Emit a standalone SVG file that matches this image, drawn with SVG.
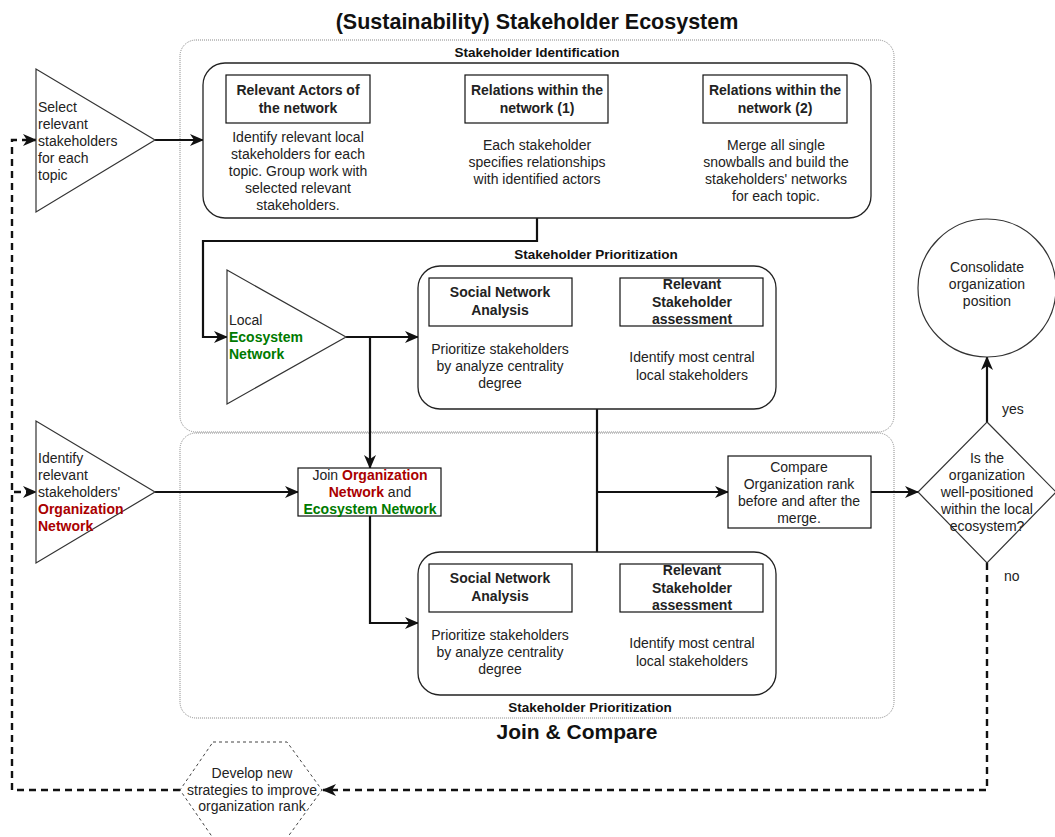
<svg xmlns="http://www.w3.org/2000/svg" width="1055" height="837" viewBox="0 0 1055 837">
<style>
text{font-family:"Liberation Sans",Arial,sans-serif;font-size:14px;fill:#222}
.c{text-anchor:middle}
.b{font-weight:bold}
.t{font-size:21.5px;font-weight:bold;fill:#111}
.h{font-size:13.5px;font-weight:bold;fill:#111}
.red{fill:#AA0000;font-weight:bold}
.grn{fill:#007A00;font-weight:bold}
.cont{fill:none;stroke:#888;stroke-width:1;stroke-dasharray:1 1}
.rr{fill:#fff;stroke:#222;stroke-width:1.3}
.bx{fill:#fff;stroke:#111;stroke-width:1.2}
.sh{fill:#fff;stroke:#333;stroke-width:1.2}
.thick{fill:none;stroke:#111;stroke-width:2.2}
.thin{fill:none;stroke:#111;stroke-width:1.2}
.dash{fill:none;stroke:#111;stroke-width:2.4;stroke-dasharray:7 5}
</style>
<defs>
<marker id="ah" markerUnits="userSpaceOnUse" markerWidth="14" markerHeight="12" refX="13" refY="6" orient="auto">
<path d="M0,0 L14,6 L0,12 L4,6 z" fill="#111"/>
</marker>
<marker id="as" markerUnits="userSpaceOnUse" markerWidth="10" markerHeight="9" refX="9.5" refY="4.5" orient="auto">
<path d="M0,0 L10,4.5 L0,9 L3,4.5 z" fill="#111"/>
</marker>
</defs>
<rect width="1055" height="837" fill="#fff"/>

<text class="t c" x="537" y="29">(Sustainability) Stakeholder Ecosystem</text>

<g id="containers">
<rect class="cont" x="180" y="40" width="714" height="392" rx="16"/>
<rect class="cont" x="180" y="433" width="714" height="285" rx="16"/>
<text class="h c" x="537" y="57">Stakeholder Identification</text>
<text class="h c" x="596" y="259">Stakeholder Prioritization</text>
<text class="h c" x="590" y="712">Stakeholder Prioritization</text>
<text class="t c" x="577" y="739" style="font-size:21px">Join &amp; Compare</text>
</g>

<g id="connectors">
<path class="thick" d="M155,140 L203,140" marker-end="url(#ah)"/>
<path class="thin" d="M370,99 L465,99" marker-end="url(#as)"/>
<path class="thin" d="M608,99 L703,99" marker-end="url(#as)"/>
<path class="thick" d="M537,218 L537,241 L203,241 L203,337 L227,337" marker-end="url(#ah)"/>
<path class="thick" d="M346,337 L418,337" marker-end="url(#ah)"/>
<path class="thick" d="M370,337 L370,468" marker-end="url(#ah)"/>
<path class="thin" d="M572,302 L620,302" marker-end="url(#as)"/>
<path class="thick" d="M155,492 L298,492" marker-end="url(#ah)"/>
<path class="thick" d="M370,516 L370,623 L418,623" marker-end="url(#ah)"/>
<path class="thin" d="M572,588 L620,588" marker-end="url(#as)"/>
<path class="thick" d="M597,409 L597,552"/>
<path class="thick" d="M597,492 L728,492" marker-end="url(#ah)"/>
<path class="thick" d="M871,492 L918,492" marker-end="url(#ah)"/>
<path class="thick" d="M987,422 L987,357" marker-end="url(#ah)"/>
<text x="1002" y="414">yes</text>
<path class="dash" d="M987,563 L987,790 L323,790" marker-end="url(#ah)"/>
<text x="1004" y="581">no</text>
<path class="dash" d="M180,790 L12,790 L12,140 L36,140" marker-end="url(#ah)"/>
<path class="dash" d="M14,492 L36,492" stroke-dasharray="4 3" marker-end="url(#ah)"/>
</g>

<g id="triangle-select">
<polygon class="sh" points="36,69 36,212 155,140"/>
<text x="38" y="112">Select</text>
<text x="38" y="129">relevant</text>
<text x="38" y="146">stakeholders</text>
<text x="38" y="163">for each</text>
<text x="38" y="180">topic</text>
</g>

<g id="identification">
<rect class="rr" x="203" y="63" width="668" height="155" rx="22"/>
</g>

<g id="actors">
<rect class="bx" x="226" y="75" width="144" height="48"/>
<text class="c b" x="298" y="95">Relevant Actors of</text>
<text class="c b" x="298" y="113">the network</text>
<text class="c" x="298" y="142">Identify relevant local</text>
<text class="c" x="298" y="159">stakeholders for each</text>
<text class="c" x="298" y="176">topic. Group work with</text>
<text class="c" x="298" y="193">selected relevant</text>
<text class="c" x="298" y="210">stakeholders.</text>
</g>

<g id="relations1">
<rect class="bx" x="465" y="75" width="143" height="48"/>
<text class="c b" x="537" y="95">Relations within the</text>
<text class="c b" x="537" y="113">network (1)</text>
<text class="c" x="537" y="150">Each stakeholder</text>
<text class="c" x="537" y="167">specifies relationships</text>
<text class="c" x="537" y="184">with identified actors</text>
</g>

<g id="relations2">
<rect class="bx" x="703" y="75" width="144" height="48"/>
<text class="c b" x="775" y="95">Relations within the</text>
<text class="c b" x="775" y="113">network (2)</text>
<text class="c" x="776" y="150">Merge all single</text>
<text class="c" x="776" y="167">snowballs and build the</text>
<text class="c" x="776" y="184">stakeholders' networks</text>
<text class="c" x="776" y="201">for each topic.</text>
</g>

<g id="triangle-local">
<polygon class="sh" points="227,270 227,404 346,337"/>
<text x="229" y="325">Local</text>
<text x="229" y="342" class="grn">Ecosystem</text>
<text x="229" y="359" class="grn">Network</text>
</g>

<g id="prioritization1">
<rect class="rr" x="418" y="266" width="358" height="143" rx="22"/>
<rect class="bx" x="429" y="278" width="143" height="48"/>
<text class="c b" x="500" y="297">Social Network</text>
<text class="c b" x="500" y="315">Analysis</text>
<rect class="bx" x="620" y="278" width="143" height="48"/>
<text class="c b" x="692" y="289">Relevant</text>
<text class="c b" x="692" y="307">Stakeholder</text>
<text class="c b" x="692" y="324">assessment</text>
<text class="c" x="500" y="354">Prioritize stakeholders</text>
<text class="c" x="500" y="371">by analyze centrality</text>
<text class="c" x="500" y="388">degree</text>
<text class="c" x="692" y="362">Identify most central</text>
<text class="c" x="692" y="380">local stakeholders</text>
</g>

<g id="triangle-org">
<polygon class="sh" points="36,421 36,563 155,492"/>
<text x="38" y="463">Identify</text>
<text x="38" y="480">relevant</text>
<text x="38" y="497">stakeholders'</text>
<text x="38" y="514" class="red">Organization</text>
<text x="38" y="531" class="red">Network</text>
</g>

<g id="join">
<rect class="bx" x="298" y="468" width="143" height="48"/>
<text class="c" x="370" y="480">Join <tspan class="red">Organization</tspan></text>
<text class="c" x="370" y="497"><tspan class="red">Network</tspan> and</text>
<text class="c grn" x="370" y="514">Ecosystem Network</text>
</g>

<g id="prioritization2">
<rect class="rr" x="418" y="552" width="358" height="143" rx="22"/>
<rect class="bx" x="429" y="564" width="143" height="48"/>
<text class="c b" x="500" y="583">Social Network</text>
<text class="c b" x="500" y="601">Analysis</text>
<rect class="bx" x="620" y="564" width="143" height="48"/>
<text class="c b" x="692" y="575">Relevant</text>
<text class="c b" x="692" y="593">Stakeholder</text>
<text class="c b" x="692" y="610">assessment</text>
<text class="c" x="500" y="640">Prioritize stakeholders</text>
<text class="c" x="500" y="657">by analyze centrality</text>
<text class="c" x="500" y="674">degree</text>
<text class="c" x="692" y="648">Identify most central</text>
<text class="c" x="692" y="666">local stakeholders</text>
</g>

<g id="compare">
<rect class="bx" x="728" y="456" width="143" height="72"/>
<text class="c" x="799" y="472">Compare</text>
<text class="c" x="799" y="489">Organization rank</text>
<text class="c" x="799" y="506">before and after the</text>
<text class="c" x="799" y="523">merge.</text>
</g>

<g id="decision">
<polygon class="sh" points="987,422 1056,492 987,563 918,492"/>
<text class="c" x="987" y="463">Is the</text>
<text class="c" x="987" y="480">organization</text>
<text class="c" x="987" y="497">well-positioned</text>
<text class="c" x="987" y="514">within the local</text>
<text class="c" x="987" y="531">ecosystem?</text>
</g>

<g id="consolidate">
<circle class="sh" cx="987" cy="288" r="69"/>
<text class="c" x="987" y="272">Consolidate</text>
<text class="c" x="987" y="289">organization</text>
<text class="c" x="987" y="306">position</text>
</g>

<g id="develop">
<polygon points="213,742 287,742 322,790 287,838 213,838 180,790" fill="#fff" stroke="#444" stroke-width="1" stroke-dasharray="3 3"/>
<text class="c" x="252" y="778">Develop new</text>
<text class="c" x="252" y="795">strategies to improve</text>
<text class="c" x="252" y="811">organization rank</text>
</g>
</svg>
